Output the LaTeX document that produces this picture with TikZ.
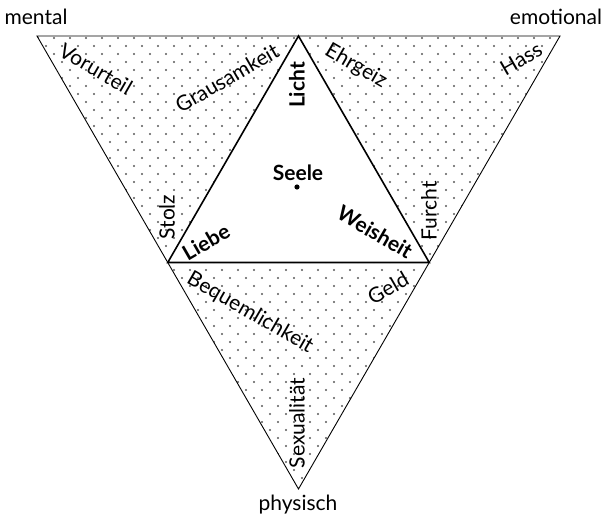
\documentclass[tikz,border=0pt]{standalone}
\usepackage{fontspec}
\setmainfont{Lato}
\usepackage{tikz}
\usetikzlibrary{calc}
\tikzset{
  edge/.style={draw=black, line width=0.45pt},
  core/.style={draw=black, line width=0.8pt, fill=white},
  grain/.style={fill=black!65},
  vice/.style={font=\fontsize{10.5}{12}\selectfont, inner sep=0pt},
  virtue/.style={font=\fontsize{10.5}{12}\selectfont\bfseries, inner sep=0pt},
  pole/.style={font=\fontsize{10.5}{12}\selectfont, inner sep=0pt, anchor=base},
}

\begin{document}
\begin{tikzpicture}[x=0.5pt, y=-0.5pt]
  \useasboundingbox (0,0) rectangle (607,519);
  % corners of the big triangle and of the soul triangle
  \coordinate (ment) at (37,36);
  \coordinate (emo) at (560,36);
  \coordinate (phys) at (298.5,489);
  \coordinate (top) at ($(ment)!0.5!(emo)$);
  \coordinate (left) at ($(ment)!0.5!(phys)$);
  \coordinate (right) at ($(emo)!0.5!(phys)$);
  % dotted field
  \begin{scope}
    \clip (ment) -- (emo) -- (phys) -- cycle;
    \foreach \r in {0,...,57} {
      \pgfmathsetmacro\yy{38+8*\r}
      \pgfmathsetmacro\xo{mod(\r,2)==0 ? 6 : 14}
      \foreach \i in {0,...,37}
        \fill[grain] (\xo+16*\i,\yy) circle (0.55pt);
    }
  \end{scope}
  \draw[edge] (ment) -- (emo) -- (phys) -- cycle;
  \draw[core] (top) -- (left) -- (right) -- cycle;
  % poles
  \node[pole] (mental) at (36,25) {mental};
  \node[pole] (emotional) at (556,25) {emotional};
  \node[pole] (physisch) at (298,511) {physisch};
  % soul
  \node[virtue] (seele) at (298,173) {Seele};
  \fill (297,187) circle (1.3pt);
  \node[virtue, rotate=90] (licht) at (297,85) {Licht};
  \node[virtue, rotate=30] (liebe) at (206,242) {Liebe};
  \node[virtue, rotate=-30] (weisheit) at (375,232) {Weisheit};
  % vices
  \node[vice, rotate=-30] (vorurteil) at (96,69) {Vorurteil};
  \node[vice, rotate=30] (grausamkeit) at (227,78) {Grausamkeit};
  \node[vice, rotate=90] (stolz) at (167,217) {Stolz};
  \node[vice, rotate=-30] (ehrgeiz) at (356,66) {Ehrgeiz};
  \node[vice, rotate=30] (hass) at (521,59) {Hass};
  \node[vice, rotate=90] (furcht) at (429,211) {Furcht};
  \node[vice, rotate=-30] (bequem) at (250,313) {Bequemlichkeit};
  \node[vice, rotate=30] (geld) at (388,288) {Geld};
  \node[vice, rotate=90] (sex) at (297,423) {Sexualität};
\end{tikzpicture}
\end{document}
